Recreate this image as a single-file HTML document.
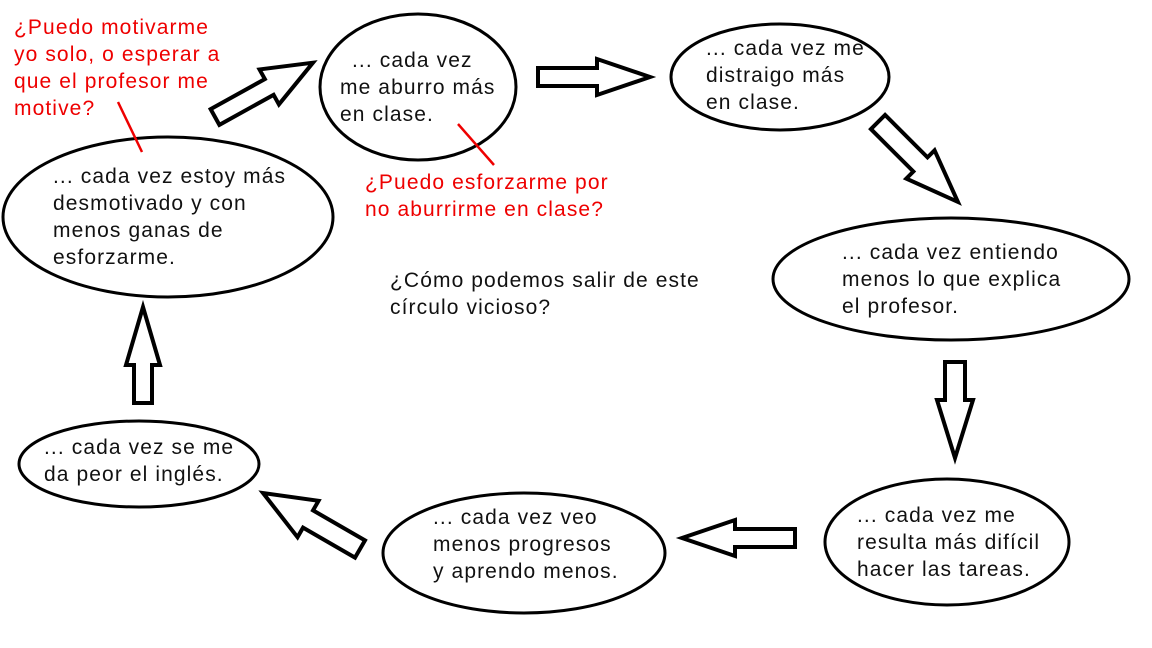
<!DOCTYPE html>
<html><head><meta charset="utf-8"><style>
html,body{margin:0;padding:0;background:#fff;}
svg{display:block;}
text{font-family:"Liberation Sans",sans-serif;font-size:21px;letter-spacing:1.1px;fill:#111;}
.r{fill:#e00;}
</style></head><body>
<svg width="1152" height="648" viewBox="0 0 1152 648">
<g fill="#fff" stroke="#000" stroke-width="3">
<ellipse cx="418" cy="87" rx="98" ry="73"/>
<ellipse cx="780" cy="77" rx="109" ry="53"/>
<ellipse cx="951" cy="279" rx="178" ry="61"/>
<ellipse cx="947" cy="542" rx="122" ry="63"/>
<ellipse cx="524" cy="553" rx="141" ry="60"/>
<ellipse cx="139" cy="464" rx="120" ry="43"/>
<ellipse cx="168" cy="217" rx="165" ry="80"/>
</g>
<g fill="#fff" stroke="#000" stroke-width="4" stroke-linejoin="miter">
<g transform="translate(215,117) rotate(-29)"><polygon points="0,-9 62,-9 62,-20 112,0 62,20 62,9 0,9"/></g>
<g transform="translate(538,77)"><polygon points="0,-9 59,-9 59,-18 112,0 59,18 59,9 0,9"/></g>
<g transform="translate(878,122) rotate(45)"><polygon points="0,-10 60,-10 60,-20 113,0 60,20 60,10 0,10"/></g>
<g transform="translate(955,362) rotate(90)"><polygon points="0,-10 38,-10 38,-18 96,0 38,18 38,10 0,10"/></g>
<g transform="translate(795,538) rotate(180)"><polygon points="0,-9 60,-9 60,-18 113,0 60,18 60,9 0,9"/></g>
<g transform="translate(360,549) rotate(-150)"><polygon points="0,-10 60,-10 60,-21 112,0 60,21 60,10 0,10"/></g>
<g transform="translate(143,403) rotate(-90)"><polygon points="0,-9 38,-9 38,-17 96,0 38,17 38,9 0,9"/></g>
</g>
<g stroke="#e00" stroke-width="2.5">
<line x1="118" y1="102" x2="142" y2="152"/>
<line x1="458" y1="124" x2="494" y2="165"/>
</g>
<text x="352" y="67">... cada vez</text>
<text x="340" y="94">me aburro más</text>
<text x="340" y="121">en clase.</text>
<text x="706" y="55">... cada vez me</text>
<text x="706" y="82">distraigo más</text>
<text x="706" y="109">en clase.</text>
<text x="842" y="259">... cada vez entiendo</text>
<text x="842" y="286">menos lo que explica</text>
<text x="842" y="313">el profesor.</text>
<text x="857" y="522">... cada vez me</text>
<text x="857" y="549">resulta más difícil</text>
<text x="857" y="576">hacer las tareas.</text>
<text x="433" y="524">... cada vez veo</text>
<text x="433" y="551">menos progresos</text>
<text x="433" y="578">y aprendo menos.</text>
<text x="44" y="454">... cada vez se me</text>
<text x="44" y="481">da peor el inglés.</text>
<text x="53" y="183">... cada vez estoy más</text>
<text x="53" y="210">desmotivado y con</text>
<text x="53" y="237">menos ganas de</text>
<text x="53" y="264">esforzarme.</text>
<text x="390" y="287">¿Cómo podemos salir de este</text>
<text x="390" y="314">círculo vicioso?</text>
<text class="r" x="14" y="34">¿Puedo motivarme</text>
<text class="r" x="14" y="61">yo solo, o esperar a</text>
<text class="r" x="14" y="88">que el profesor me</text>
<text class="r" x="14" y="115">motive?</text>
<text class="r" x="365" y="189">¿Puedo esforzarme por</text>
<text class="r" x="365" y="216">no aburrirme en clase?</text>
</svg>
</body></html>
